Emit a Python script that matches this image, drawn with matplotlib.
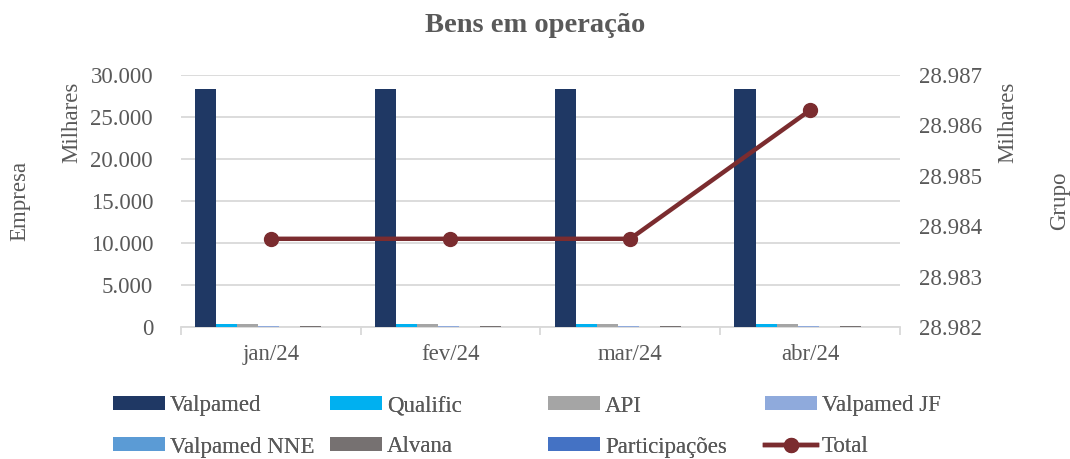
import numpy as np
import matplotlib.pyplot as plt
from matplotlib.ticker import FuncFormatter, MultipleLocator

plt.rcParams['font.family'] = ['Liberation Serif', 'DejaVu Serif']

# values in thousands (Milhares)
months = ['jan/24', 'fev/24', 'mar/24', 'abr/24']
series_names = ['Valpamed', 'Qualific', 'API', 'Valpamed JF',
                'Valpamed NNE', 'Alvana', 'Participações']
valpamed = [28300, 28300, 28300, 28300]
qualific = [330, 330, 330, 330]
api = [400, 400, 400, 400]
valpamed_jf = [90, 90, 90, 90]
valpamed_nne = [0, 0, 0, 0]
alvana = [120, 120, 120, 120]
participacoes = [0, 0, 0, 0]
total = [28.98375, 28.98375, 28.98375, 28.9863]  # group, thousands of thousands

colors = ['#1F3864', '#00B0F0', '#A5A5A5', '#8FAADC',
          '#5B9BD5', '#767171', '#4472C4']
line_color = '#7B2C2F'
text_color = '#595959'
W, H = 1070, 459

fig = plt.figure(figsize=(10.7, 4.59), dpi=100)
ax = fig.add_axes([0.169, 0.2876, 0.672, 0.549])
ax2 = ax.twinx()

x = np.arange(len(months))
all_series = [valpamed, qualific, api, valpamed_jf, valpamed_nne, alvana, participacoes]
bw = 0.117
handles = []
for i, (vals, c, name) in enumerate(zip(all_series, colors, series_names)):
    b = ax.bar(x - 0.5 + 0.08 + bw * (i + 0.5), vals, width=bw, color=c, label=name, zorder=3)
    handles.append(b)

ln, = ax2.plot(x, total, color=line_color, lw=3.2, marker='o', markersize=10, label='Total', zorder=4)
handles.append(ln)

ax.set_xlim(-0.5, len(months) - 0.5)
ax.set_ylim(0, 30000)
ax.yaxis.set_major_locator(MultipleLocator(5000))
ax.yaxis.set_major_formatter(FuncFormatter(lambda v, p: f'{int(v):,}'.replace(',', '.')))
ax2.set_ylim(28.982, 28.987)
ax2.yaxis.set_major_locator(MultipleLocator(0.001))
ax2.yaxis.set_major_formatter(FuncFormatter(lambda v, p: f'{v:.3f}'))

ax.grid(axis='y', color='#D9D9D9', lw=1.3, zorder=0)
ax.set_axisbelow(True)
for a in (ax, ax2):
    for s in ['top', 'left', 'right', 'bottom']:
        a.spines[s].set_visible(False)
ax.spines['bottom'].set_visible(True)
ax.spines['bottom'].set_color('#D9D9D9')
ax.spines['bottom'].set_linewidth(1.3)

ax.set_xticks(x)
ax.set_xticklabels(months)
ax.set_xticks(np.arange(len(months) + 1) - 0.5, minor=True)
ax.tick_params(axis='x', which='major', length=0, pad=12, labelsize=16.5, labelcolor=text_color)
ax.tick_params(axis='x', which='minor', length=6, color='#D9D9D9', width=1.3)
ax.tick_params(axis='y', length=0, pad=20, labelsize=16.5, labelcolor=text_color)
ax2.tick_params(axis='y', length=0, pad=14, labelsize=16.5, labelcolor=text_color)

fig.text(0.5, 0.945, 'Bens em operação', ha='center', va='center',
         fontsize=20.5, fontweight='bold', color=text_color)
fig.text(20 / W, 1 - 201 / H, 'Empresa', rotation=90, ha='center', va='center', fontsize=16.5, color=text_color)
fig.text(72 / W, 1 - 122 / H, 'Milhares', rotation=90, ha='center', va='center', fontsize=16.5, color=text_color)
fig.text(1008 / W, 1 - 122 / H, 'Milhares', rotation=90, ha='center', va='center', fontsize=16.5, color=text_color)
fig.text(1060 / W, 1 - 201 / H, 'Grupo', rotation=90, ha='center', va='center', fontsize=16.5, color=text_color)

# legend laid out in fixed columns like the original
labels = series_names + ['Total']
col_x = [113, 330, 548, 765]
row_y = [406, 447]
fs = 16.5
fs_px = fs * 100 / 72
for k, (h, lab) in enumerate(zip(handles, labels)):
    r, c = divmod(k, 4)
    leg = fig.legend([h], [lab], loc='center left',
                     bbox_to_anchor=(col_x[c] / W, 1 - row_y[r] / H),
                     frameon=False, fontsize=fs, borderpad=0, borderaxespad=0,
                     handlelength=52 / fs_px, handleheight=13 / fs_px,
                     handletextpad=5 / fs_px, labelcolor=text_color)
    fig.add_artist(leg)

plt.savefig('out.png')
